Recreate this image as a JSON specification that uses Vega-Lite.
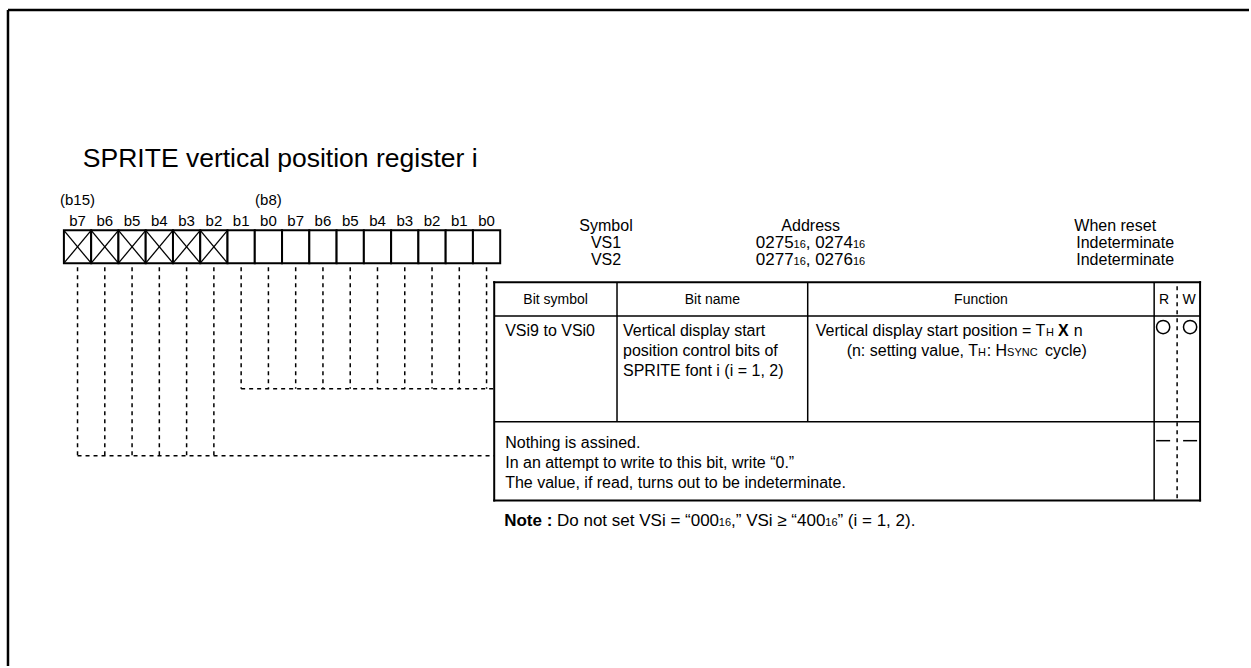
{
  "$schema": "https://vega.github.io/schema/vega-lite/v6.json",
  "width": 1251,
  "height": 668,
  "padding": 0,
  "autosize": {"type": "fit", "contains": "padding"},
  "background": "white",
  "config": {"view": {"stroke": null}, "text": {"font": "Liberation Sans", "baseline": "alphabetic", "color": "black"}},
  "datasets": {
    "cells": [
      {"x": 64, "x2v": 91.31, "y": 231, "y2v": 264}, {"x": 91.31, "x2v": 118.63, "y": 231, "y2v": 264},
      {"x": 118.63, "x2v": 145.94, "y": 231, "y2v": 264}, {"x": 145.94, "x2v": 173.25, "y": 231, "y2v": 264},
      {"x": 173.25, "x2v": 200.56, "y": 231, "y2v": 264}, {"x": 200.56, "x2v": 227.88, "y": 231, "y2v": 264},
      {"x": 227.88, "x2v": 255.19, "y": 231, "y2v": 264}, {"x": 255.19, "x2v": 282.5, "y": 231, "y2v": 264},
      {"x": 282.5, "x2v": 309.81, "y": 231, "y2v": 264}, {"x": 309.81, "x2v": 337.13, "y": 231, "y2v": 264},
      {"x": 337.13, "x2v": 364.44, "y": 231, "y2v": 264}, {"x": 364.44, "x2v": 391.75, "y": 231, "y2v": 264},
      {"x": 391.75, "x2v": 419.06, "y": 231, "y2v": 264}, {"x": 419.06, "x2v": 446.38, "y": 231, "y2v": 264},
      {"x": 446.38, "x2v": 473.69, "y": 231, "y2v": 264}, {"x": 473.69, "x2v": 501, "y": 231, "y2v": 264}
    ],
    "crosses": [
      {"x": 64, "y": 231, "x2v": 91.31, "y2v": 264}, {"x": 64, "y": 264, "x2v": 91.31, "y2v": 231},
      {"x": 91.31, "y": 231, "x2v": 118.63, "y2v": 264}, {"x": 91.31, "y": 264, "x2v": 118.63, "y2v": 231},
      {"x": 118.63, "y": 231, "x2v": 145.94, "y2v": 264}, {"x": 118.63, "y": 264, "x2v": 145.94, "y2v": 231},
      {"x": 145.94, "y": 231, "x2v": 173.25, "y2v": 264}, {"x": 145.94, "y": 264, "x2v": 173.25, "y2v": 231},
      {"x": 173.25, "y": 231, "x2v": 200.56, "y2v": 264}, {"x": 173.25, "y": 264, "x2v": 200.56, "y2v": 231},
      {"x": 200.56, "y": 231, "x2v": 227.88, "y2v": 264}, {"x": 200.56, "y": 264, "x2v": 227.88, "y2v": 231}
    ],
    "thick": [
      {"x": 8, "y": 10, "x2v": 1251, "y2v": 10},
      {"x": 8, "y": 10, "x2v": 8, "y2v": 668}
    ],
    "tableOuter": [
      {"x": 495, "y": 283, "x2v": 1202, "y2v": 283},
      {"x": 495, "y": 502, "x2v": 1202, "y2v": 502},
      {"x": 495, "y": 283, "x2v": 495, "y2v": 502},
      {"x": 1202, "y": 283, "x2v": 1202, "y2v": 502}
    ],
    "thin": [
      {"x": 495, "y": 317, "x2v": 1202, "y2v": 317},
      {"x": 495, "y": 423, "x2v": 1202, "y2v": 423},
      {"x": 618, "y": 283, "x2v": 618, "y2v": 423},
      {"x": 809, "y": 283, "x2v": 809, "y2v": 423},
      {"x": 1156, "y": 283, "x2v": 1156, "y2v": 502},
      {"x": 1158, "y": 442, "x2v": 1172, "y2v": 442},
      {"x": 1185, "y": 442, "x2v": 1199, "y2v": 442}
    ],
    "dashed": [
      {"x": 77.66, "y": 268, "x2v": 77.66, "y2v": 457},
      {"x": 104.97, "y": 268, "x2v": 104.97, "y2v": 457},
      {"x": 132.28, "y": 268, "x2v": 132.28, "y2v": 457},
      {"x": 159.59, "y": 268, "x2v": 159.59, "y2v": 457},
      {"x": 186.91, "y": 268, "x2v": 186.91, "y2v": 457},
      {"x": 214.22, "y": 268, "x2v": 214.22, "y2v": 457},
      {"x": 241.53, "y": 268, "x2v": 241.53, "y2v": 390},
      {"x": 268.84, "y": 268, "x2v": 268.84, "y2v": 390},
      {"x": 296.16, "y": 268, "x2v": 296.16, "y2v": 390},
      {"x": 323.47, "y": 268, "x2v": 323.47, "y2v": 390},
      {"x": 350.78, "y": 268, "x2v": 350.78, "y2v": 390},
      {"x": 378.09, "y": 268, "x2v": 378.09, "y2v": 390},
      {"x": 405.41, "y": 268, "x2v": 405.41, "y2v": 390},
      {"x": 432.72, "y": 268, "x2v": 432.72, "y2v": 390},
      {"x": 460.03, "y": 268, "x2v": 460.03, "y2v": 390},
      {"x": 487.34, "y": 268, "x2v": 487.34, "y2v": 390},
      {"x": 241.53, "y": 390, "x2v": 495, "y2v": 390},
      {"x": 77.66, "y": 457, "x2v": 495, "y2v": 457},
      {"x": 1179, "y": 287, "x2v": 1179, "y2v": 502}
    ],
    "circles": [
      {"x": 1165, "y": 328}, {"x": 1192, "y": 328}
    ],
    "title": [
      {"x": 83, "y": 168, "t": "SPRITE vertical position register i"}
    ],
    "bitlabels": [
      {"x": 77.66, "y": 206, "t": "(b15)"}, {"x": 268.84, "y": 206, "t": "(b8)"},
      {"x": 77.66, "y": 227, "t": "b7"}, {"x": 104.97, "y": 227, "t": "b6"},
      {"x": 132.28, "y": 227, "t": "b5"}, {"x": 159.59, "y": 227, "t": "b4"},
      {"x": 186.91, "y": 227, "t": "b3"}, {"x": 214.22, "y": 227, "t": "b2"},
      {"x": 241.53, "y": 227, "t": "b1"}, {"x": 268.84, "y": 227, "t": "b0"},
      {"x": 296.16, "y": 227, "t": "b7"}, {"x": 323.47, "y": 227, "t": "b6"},
      {"x": 350.78, "y": 227, "t": "b5"}, {"x": 378.09, "y": 227, "t": "b4"},
      {"x": 405.41, "y": 227, "t": "b3"}, {"x": 432.72, "y": 227, "t": "b2"},
      {"x": 460.03, "y": 227, "t": "b1"}, {"x": 487.34, "y": 227, "t": "b0"}
    ],
    "midCenter": [
      {"x": 607, "y": 232, "t": "Symbol"},
      {"x": 607, "y": 249, "t": "VS1"},
      {"x": 607, "y": 266, "t": "VS2"},
      {"x": 812, "y": 232, "t": "Address"}
    ],
    "header": [
      {"x": 556.5, "y": 305, "t": "Bit symbol"},
      {"x": 713.5, "y": 305, "t": "Bit name"},
      {"x": 982.5, "y": 305, "t": "Function"},
      {"x": 1166, "y": 305, "t": "R"},
      {"x": 1191, "y": 305, "t": "W"}
    ],
    "address": [
      {"x": 757, "y": 249, "t": "0275"},
      {"x": 807, "y": 249, "t": ", 0274"},
      {"x": 757, "y": 266, "t": "0277"},
      {"x": 807, "y": 266, "t": ", 0276"}
    ],
    "midLeft": [
      {"x": 1076, "y": 232, "t": "When reset"},
      {"x": 1078, "y": 249, "t": "Indeterminate"},
      {"x": 1078, "y": 266, "t": "Indeterminate"},
      {"x": 506, "y": 337, "t": "VSi9 to VSi0"},
      {"x": 624, "y": 337, "t": "Vertical display start"},
      {"x": 624, "y": 357, "t": "position control bits of"},
      {"x": 624, "y": 377, "t": "SPRITE font i (i = 1, 2)"},
      {"x": 817, "y": 337, "t": "Vertical display start position = T"},
      {"x": 1075.4, "y": 337, "t": "n"},
      {"x": 848, "y": 357, "t": "(n: setting value, T"},
      {"x": 988.3, "y": 357, "t": ": H"},
      {"x": 1046.6, "y": 357, "t": "cycle)"},
      {"x": 506, "y": 449, "t": "Nothing is assined."},
      {"x": 506, "y": 469, "t": "In an attempt to write to this bit, write “0.”"},
      {"x": 506, "y": 489, "t": "The value, if read, turns out to be indeterminate."}
    ],
    "note": [
      {"x": 557.9, "y": 528, "t": "Do not set VSi = “000"},
      {"x": 732.2, "y": 528, "t": ",” VSi ≥ “400"},
      {"x": 838.8, "y": 528, "t": "” (i = 1, 2)."}
    ],
    "subs": [
      {"x": 794.8, "y": 249, "t": "16"},
      {"x": 854.3, "y": 249, "t": "16"},
      {"x": 794.8, "y": 266, "t": "16"},
      {"x": 854.3, "y": 266, "t": "16"},
      {"x": 1047.8, "y": 337, "t": "H"},
      {"x": 979.6, "y": 357, "t": "H"},
      {"x": 1008.7, "y": 357, "t": "SYNC"},
      {"x": 720.0, "y": 528, "t": "16"},
      {"x": 826.6, "y": 528, "t": "16"}
    ],
    "bold": [
      {"x": 1059.8, "y": 337, "t": "X"}
    ],
    "boldNote": [
      {"x": 505, "y": 528, "t": "Note :"}
    ]
  },
  "encoding": {
    "x": {"field": "x", "type": "quantitative", "scale": {"domain": [0, 1251], "nice": false, "zero": false}, "axis": null},
    "y": {"field": "y", "type": "quantitative", "scale": {"domain": [0, 668], "nice": false, "zero": false, "reverse": true}, "axis": null}
  },
  "layer": [
    {"data": {"name": "cells"}, "mark": {"type": "rect", "fill": "white", "stroke": "black", "strokeWidth": 2},
     "encoding": {"x2": {"field": "x2v"}, "y2": {"field": "y2v"}}},
    {"data": {"name": "crosses"}, "mark": {"type": "rule", "color": "black", "strokeWidth": 1.3},
     "encoding": {"x2": {"field": "x2v"}, "y2": {"field": "y2v"}}},
    {"data": {"name": "thick"}, "mark": {"type": "rule", "color": "black", "strokeWidth": 2.5},
     "encoding": {"x2": {"field": "x2v"}, "y2": {"field": "y2v"}}},
    {"data": {"name": "tableOuter"}, "mark": {"type": "rule", "color": "black", "strokeWidth": 2, "strokeCap": "square"},
     "encoding": {"x2": {"field": "x2v"}, "y2": {"field": "y2v"}}},
    {"data": {"name": "thin"}, "mark": {"type": "rule", "color": "black", "strokeWidth": 1.5},
     "encoding": {"x2": {"field": "x2v"}, "y2": {"field": "y2v"}}},
    {"data": {"name": "dashed"}, "mark": {"type": "rule", "color": "black", "strokeWidth": 1.5, "strokeDash": [4, 4]},
     "encoding": {"x2": {"field": "x2v"}, "y2": {"field": "y2v"}}},
    {"data": {"name": "circles"}, "mark": {"type": "point", "shape": "circle", "filled": false, "color": "black", "size": 175, "strokeWidth": 1.5, "opacity": 1}},
    {"data": {"name": "title"}, "mark": {"type": "text", "align": "left", "fontSize": 26.5},
     "encoding": {"text": {"field": "t"}}},
    {"data": {"name": "bitlabels"}, "mark": {"type": "text", "align": "center", "fontSize": 15},
     "encoding": {"text": {"field": "t"}}},
    {"data": {"name": "midCenter"}, "mark": {"type": "text", "align": "center", "fontSize": 16},
     "encoding": {"text": {"field": "t"}}},
    {"data": {"name": "header"}, "mark": {"type": "text", "align": "center", "fontSize": 14},
     "encoding": {"text": {"field": "t"}}},
    {"data": {"name": "address"}, "mark": {"type": "text", "align": "left", "fontSize": 17},
     "encoding": {"text": {"field": "t"}}},
    {"data": {"name": "midLeft"}, "mark": {"type": "text", "align": "left", "fontSize": 16},
     "encoding": {"text": {"field": "t"}}},
    {"data": {"name": "note"}, "mark": {"type": "text", "align": "left", "fontSize": 17},
     "encoding": {"text": {"field": "t"}}},
    {"data": {"name": "subs"}, "mark": {"type": "text", "align": "left", "fontSize": 11},
     "encoding": {"text": {"field": "t"}}},
    {"data": {"name": "bold"}, "mark": {"type": "text", "align": "left", "fontSize": 16, "fontWeight": "bold"},
     "encoding": {"text": {"field": "t"}}},
    {"data": {"name": "boldNote"}, "mark": {"type": "text", "align": "left", "fontSize": 17, "fontWeight": "bold"},
     "encoding": {"text": {"field": "t"}}}
  ]
}
